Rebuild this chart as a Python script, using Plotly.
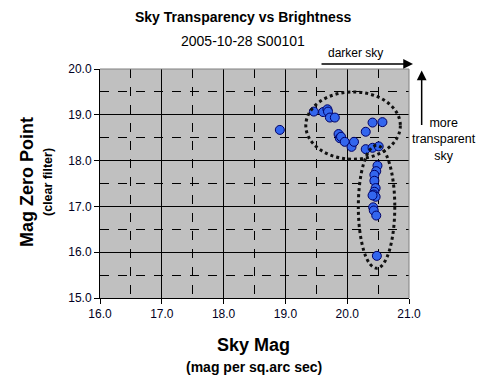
import plotly.graph_objects as go

# Data
sky_mag = [18.91, 19.46, 19.61, 19.68, 19.69, 19.72, 19.80, 19.86, 19.88, 19.90,
           19.96, 20.07, 20.11, 20.30, 20.41, 20.57, 20.30, 20.41, 20.51,
           20.49, 20.47, 20.44, 20.44, 20.46, 20.44, 20.43, 20.46, 20.41,
           20.42, 20.43, 20.47, 20.48]
zero_point = [18.67, 19.07, 19.06, 19.12, 19.07, 18.94, 18.94, 18.58, 18.49, 18.52,
              18.41, 18.30, 18.41, 18.63, 18.83, 18.84, 18.25, 18.28, 18.31,
              17.89, 17.77, 17.69, 17.56, 17.40, 17.32, 17.26, 17.21, 17.24,
              16.98, 16.91, 16.80, 15.92]

x_ticks = [16.0, 17.0, 18.0, 19.0, 20.0, 21.0]
y_ticks = [15.0, 16.0, 17.0, 18.0, 19.0, 20.0]

# highlight ellipses (x0, x1, y0, y1) in data units
ellipse_top = [19.33, 20.86, 18.03, 19.50]
ellipse_right = [20.18, 20.77, 15.65, 18.33]

FONT = "Liberation Sans, Arial, sans-serif"
TXT = "#000000"

fig = go.Figure()
fig.add_trace(go.Scatter(
    x=sky_mag, y=zero_point, mode="markers",
    marker=dict(symbol="circle", size=9, color="#3366EE",
                line=dict(color="#000066", width=1)),
    showlegend=False, hoverinfo="x+y"))

axis_common = dict(
    showgrid=True, gridcolor="#000000", gridwidth=1,
    showline=True, linecolor="#000000", linewidth=1,
    ticks="outside", ticklen=5, tickcolor="#000000",
    tickfont=dict(family=FONT, size=12, color="#000022"),
    tickformat=".1f", zeroline=False,
    minor=dict(dtick=0.5, showgrid=True, gridcolor="#000000",
               griddash="dash", gridwidth=1, ticks=""),
)

fig.update_layout(
    width=488, height=391,
    margin=dict(l=100, r=79, t=69, b=93),
    paper_bgcolor="#FFFFFF", plot_bgcolor="#C0C0C0",
    font=dict(family=FONT, color=TXT),
    xaxis=dict(range=[16, 21], tickvals=x_ticks, **axis_common),
    yaxis=dict(range=[15, 20], tickvals=y_ticks, **axis_common),
)

# gray border on top / right of plot area
fig.add_shape(type="line", xref="paper", yref="paper", x0=0, x1=1, y0=1, y1=1,
              line=dict(color="#808080", width=1), layer="above")
fig.add_shape(type="line", xref="paper", yref="paper", x0=1, x1=1, y0=0, y1=1,
              line=dict(color="#808080", width=1), layer="above")

for e in (ellipse_top, ellipse_right):
    fig.add_shape(type="circle", xref="x", yref="y",
                  x0=e[0], x1=e[1], y0=e[2], y1=e[3],
                  line=dict(color="#111111", width=3, dash="dot"), layer="above")

# titles
fig.add_annotation(text="<b>Sky Transparency vs Brightness</b>", xref="paper", yref="paper",
                   x=0.463, y=1.227, showarrow=False, xanchor="center", yanchor="middle",
                   font=dict(family=FONT, size=14, color="#000000"))
fig.add_annotation(text="2005-10-28 S00101", xref="paper", yref="paper",
                   x=0.463, y=1.122, showarrow=False, xanchor="center", yanchor="middle",
                   font=dict(family=FONT, size=14, color="#000000"))

# axis titles
fig.add_annotation(text="<b>Sky Mag</b>", xref="paper", yref="paper",
                   x=0.498, y=-0.205, showarrow=False, xanchor="center", yanchor="middle",
                   font=dict(family=FONT, size=18, color="#000000"))
fig.add_annotation(text="<b>(mag per sq.arc sec)</b>", xref="paper", yref="paper",
                   x=0.498, y=-0.301, showarrow=False, xanchor="center", yanchor="middle",
                   font=dict(family=FONT, size=14, color="#000000"))
fig.add_annotation(text="<b>Mag Zero Point</b>", xref="paper", yref="paper",
                   x=-0.236, y=0.507, showarrow=False, textangle=-90,
                   xanchor="center", yanchor="middle",
                   font=dict(family=FONT, size=18, color="#000000"))
fig.add_annotation(text="<b>(clear filter)</b>", xref="paper", yref="paper",
                   x=-0.168, y=0.507, showarrow=False, textangle=-90,
                   xanchor="center", yanchor="middle",
                   font=dict(family=FONT, size=12.5, color="#000000"))

# direction arrows
fig.add_annotation(text="", xref="paper", yref="paper", x=1.013, y=1.022,
                   ax=-93, ay=0, axref="pixel", ayref="pixel",
                   showarrow=True, arrowhead=2, arrowsize=1.3, arrowwidth=1.5,
                   arrowcolor="#000000")
fig.add_annotation(text="darker sky", xref="paper", yref="paper", x=0.828, y=1.07,
                   showarrow=False, xanchor="center", yanchor="middle",
                   font=dict(family=FONT, size=12, color="#000000"))
fig.add_annotation(text="", xref="paper", yref="paper", x=1.041, y=0.993,
                   ax=0, ay=56, axref="pixel", ayref="pixel",
                   showarrow=True, arrowhead=2, arrowsize=1.3, arrowwidth=1.5,
                   arrowcolor="#000000")
fig.add_annotation(text="more<br>transparent<br>sky", xref="paper", yref="paper",
                   x=1.113, y=0.69, showarrow=False, xanchor="center", yanchor="middle",
                   align="center",
                   font=dict(family=FONT, size=12.5, color="#000000"))

fig.write_html("out.html", config={"displayModeBar": False},
               post_script="document.body.style.margin='0';document.body.style.overflow='hidden';")
